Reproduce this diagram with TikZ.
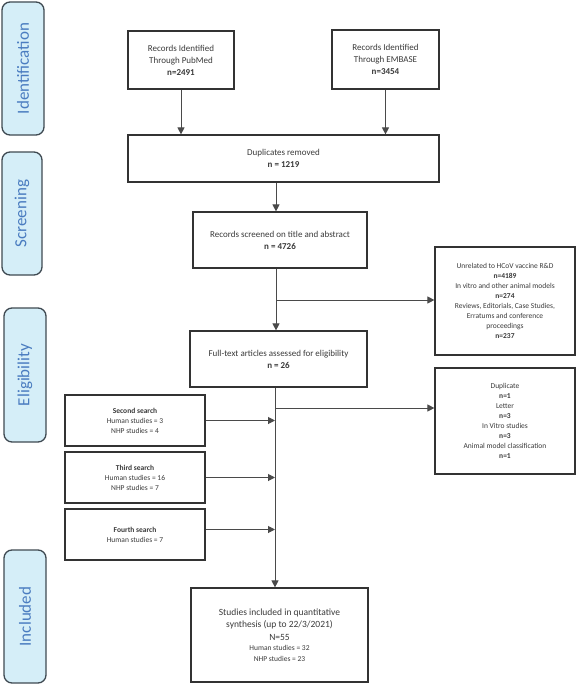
\documentclass[tikz,border=0pt]{standalone}
\usepackage{fontspec}
\setmainfont{Carlito}
\usetikzlibrary{arrows.meta}
\definecolor{boxline}{HTML}{333333}
\definecolor{conline}{HTML}{4A4A4A}
\definecolor{txt}{HTML}{3A3A3A}
\definecolor{lblfill}{HTML}{D5EEF8}
\definecolor{lblline}{HTML}{3F4A52}
\definecolor{lbltext}{HTML}{4A7CC0}
\newcommand{\smallfs}{\fontsize{7.5}{10}\selectfont}
\tikzset{
  box/.style={draw=boxline, line width=1.2pt, fill=white, text=txt, align=center, inner sep=2pt},
  maintext/.style={font=\fontsize{9}{12}\selectfont},
  smalltext/.style={font=\fontsize{7.5}{10}\selectfont},
  stage/.style={draw=lblline, line width=1.3pt, fill=lblfill, rounded corners=8pt},
  stagetext/.style={rotate=90, text=lbltext, font=\fontsize{17}{20}\selectfont},
  arr/.style={draw=conline, line width=1pt, -{Triangle[length=7pt,width=7pt]}}
}
\begin{document}
\begin{tikzpicture}[x=1pt,y=-1pt]
\useasboundingbox (0,0) rectangle (576,685);
% stage labels
\node[stage, minimum width=42pt, minimum height=133pt] (sid) at (23,68.5) {};
\node[stagetext] (tid) at (sid.center) {Identification};
\node[stage, minimum width=40pt, minimum height=123pt] (ssc) at (22,213.5) {};
\node[stagetext] (tsc) at (ssc.center) {Screening};
\node[stage, minimum width=42pt, minimum height=134pt] (sel) at (25,375) {};
\node[stagetext] (tel) at (sel.center) {Eligibility};
\node[stage, minimum width=42pt, minimum height=133pt] (sin) at (25,616.5) {};
\node[stagetext] (tin) at (sin.center) {Included};

% boxes
\node[box, maintext, minimum width=106pt, minimum height=58pt] (pubmed) at (181,60)
  {Records Identified\\Through PubMed\\\textbf{n=2491}};
\node[box, maintext, minimum width=107pt, minimum height=59pt] (embase) at (385.5,59.5)
  {Records Identified\\Through EMBASE\\\textbf{n=3454}};
\node[box, maintext, minimum width=311pt, minimum height=47pt] (dup) at (283.5,158.5)
  {Duplicates removed\\\textbf{n = 1219}};
\node[box, maintext, minimum width=174pt, minimum height=56pt] (scr) at (280,240)
  {Records screened on title and abstract\\\textbf{n = 4726}};
\node[box, smalltext, minimum width=140pt, minimum height=108pt] (ex1) at (505,301)
  {Unrelated to HCoV vaccine R\&D\\\textbf{n=4189}\\In vitro and other animal models\\\textbf{n=274}\\Reviews, Editorials, Case Studies,\\Erratums and conference\\proceedings\\\textbf{n=237}};
\node[box, maintext, minimum width=177pt, minimum height=56pt] (full) at (278.5,359)
  {Full-text articles assessed for eligibility\\\textbf{n = 26}};
\node[box, smalltext, minimum width=140pt, minimum height=106pt] (ex2) at (505,421)
  {Duplicate\\\textbf{n=1}\\Letter\\\textbf{n=3}\\In Vitro studies\\\textbf{n=3}\\Animal model classification\\\textbf{n=1}};
\node[box, smalltext, minimum width=140pt, minimum height=51pt] (s2) at (135,420.5)
  {\textbf{Second search}\\Human studies = 3\\NHP studies = 4};
\node[box, smalltext, minimum width=140pt, minimum height=51pt] (s3) at (135,477.5)
  {\textbf{Third search}\\Human studies = 16\\NHP studies = 7};
\node[box, smalltext, minimum width=140pt, minimum height=51pt] (s4) at (135,534.5)
  {\textbf{Fourth search}\\Human studies = 7};
\node[box, minimum width=177pt, minimum height=94pt, font=\fontsize{9.5}{12.5}\selectfont] (fin) at (279.5,635)
  {Studies included in quantitative\\synthesis (up to 22/3/2021)\\N=55\\[-2pt]
   \smallfs Human studies = 32\\[-2pt]\smallfs NHP studies = 23};

% trunk coordinates
\coordinate (t1) at (276,0);
\coordinate (t2) at (275,0);
\coordinate (b1) at (276,300);
\coordinate (b2) at (275,408);

% connectors
\draw[arr] (pubmed.south) -- (pubmed.south |- dup.north);
\draw[arr] (embase.south) -- (embase.south |- dup.north);
\draw[arr] (dup.south -| t1) -- (scr.north -| t1);
\draw[arr] (scr.south -| t1) -- (full.north -| t1);
\draw[arr] (b1) -- (b1 -| ex1.west);
\draw[arr] (full.south -| t2) -- (fin.north -| t2);
\draw[arr] (b2) -- (b2 -| ex2.west);
\draw[arr] (s2.east) -- (s2.east -| t2);
\draw[arr] (s3.east) -- (s3.east -| t2);
\draw[arr] ([yshift=5pt]s4.east) -- ([yshift=5pt]s4.east -| t2);
\end{tikzpicture}
\end{document}
